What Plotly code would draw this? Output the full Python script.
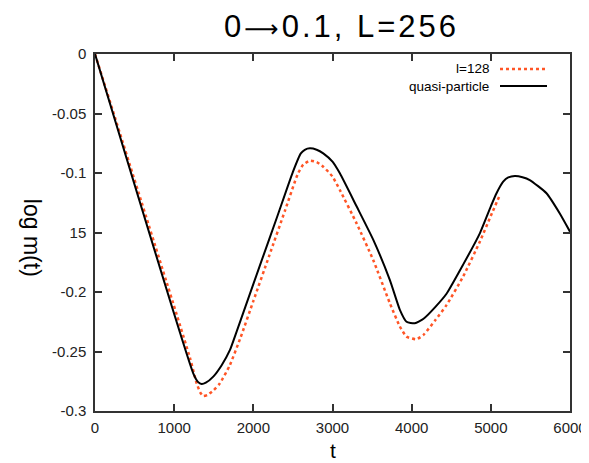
import plotly.graph_objects as go

# quasi-particle (black solid)
t_qp = [0, 1241, 1300, 1347, 1400, 1494, 1600, 1705, 1789, 1900, 2100, 2300, 2500, 2600, 2650,
        2715, 2800, 2883, 3000, 3093, 3304, 3514, 3725, 3851, 3935, 4040, 4150, 4300, 4440, 4650,
        4861, 5000, 5072, 5156, 5220, 5303, 5400, 5492, 5703, 5871, 6000]
v_qp = [0, -0.2683, -0.2755, -0.2773, -0.2762, -0.2711, -0.2615, -0.2487, -0.2333, -0.2123,
        -0.1745, -0.137, -0.099, -0.0835, -0.0805, -0.0793, -0.0805, -0.0835, -0.0905, -0.1003,
        -0.128, -0.156, -0.190, -0.215, -0.225, -0.2263, -0.2225, -0.2125, -0.2015, -0.177,
        -0.1507, -0.128, -0.117, -0.1073, -0.1037, -0.1025, -0.1035, -0.1059, -0.117, -0.134,
        -0.1493]

# l=128 (red dotted)
t_l = [0, 1200, 1284, 1330, 1367, 1420, 1500, 1578, 1700, 1840, 2000, 2200, 2400, 2560, 2630,
       2715, 2800, 2883, 3000, 3093, 3304, 3514, 3725, 3851, 3935, 4061, 4150, 4300, 4440, 4650,
       4861, 5000, 5114]
v_l = [0, -0.2555, -0.2767, -0.2845, -0.2874, -0.2865, -0.2825, -0.2767, -0.262, -0.238,
       -0.2076, -0.1696, -0.1316, -0.101, -0.093, -0.0896, -0.0908, -0.0947, -0.103, -0.1143,
       -0.1423, -0.1731, -0.2095, -0.229, -0.2375, -0.2397, -0.236, -0.2235, -0.211, -0.187,
       -0.1577, -0.136, -0.1185]

x_ticks = [0, 1000, 2000, 3000, 4000, 5000, 6000]
x_ticktext = ["0", "1000", "2000", "3000", "4000", "5000", "6000"]
y_ticks = [0, -0.05, -0.1, -0.15, -0.2, -0.25, -0.3]
y_ticktext = ["0", "-0.05", "-0.1", "15", "-0.2", "-0.25", "-0.3"]

RED = "#ff5526"
FONT = "Liberation Sans, Arial, sans-serif"

fig = go.Figure()
fig.add_trace(go.Scatter(x=t_l, y=v_l, mode="lines", name="l=128",
                         line=dict(color=RED, width=2.5, dash="dot", shape="spline",
                                   smoothing=0.5)))
fig.add_trace(go.Scatter(x=t_qp, y=v_qp, mode="lines", name="quasi-particle",
                         line=dict(color="black", width=2, shape="spline", smoothing=0.5)))

axis_common = dict(showgrid=False, zeroline=False, showline=True, linecolor="#333",
                   linewidth=1.5, mirror="ticks", ticks="inside", ticklen=7,
                   tickcolor="#333", tickwidth=1.5, automargin=False,
                   tickfont=dict(family=FONT, size=15, color="#222"))

fig.update_xaxes(range=[0, 6000], tickvals=x_ticks, ticktext=x_ticktext,
                 ticklabelstandoff=2, **axis_common)
fig.update_yaxes(range=[-0.3, 0], tickvals=y_ticks, ticktext=y_ticktext,
                 ticklabelstandoff=4, **axis_common)

# title, axis titles
fig.add_annotation(text="<span style='letter-spacing:3px'>0<span style='font-family:DejaVu Sans;font-size:24px'>⟶</span>0.1, L=256</span>",
                   xref="paper", yref="paper", x=0.5, y=1, xshift=9,
                   yshift=28, xanchor="center", yanchor="middle", showarrow=False,
                   font=dict(family=FONT, size=31, color="black"))
fig.add_annotation(text="t", xref="paper", yref="paper", x=0.5, y=0, yshift=-52,
                   xanchor="center", yanchor="bottom", showarrow=False, borderpad=0,
                   font=dict(family=FONT, size=21, color="black"))
fig.add_annotation(text="log m(t)", xref="paper", yref="paper", x=0, y=0.485,
                   xshift=-63, xanchor="center", yanchor="middle", showarrow=False,
                   textangle=90, font=dict(family=FONT, size=23, color="black"))

# custom gnuplot-style legend (text right, sample to its right)
legend_items = [("l=128", RED, "dot", 2.5), ("quasi-particle", "black", "solid", 1.8)]
for i, (label, col, dash, w) in enumerate(legend_items):
    ypix = 69 + i * 17
    yp = 1 - (ypix - 54) / 357
    fig.add_annotation(text=label, xref="paper", yref="paper", x=(491 - 95) / 475, y=yp,
                       xanchor="right", yanchor="middle", showarrow=False,
                       font=dict(family=FONT, size=13.5, color="black"))
    fig.add_shape(type="line", xref="paper", yref="paper",
                  x0=(500 - 95) / 475, x1=(547 - 95) / 475, y0=yp, y1=yp,
                  line=dict(color=col, width=w, dash=dash))

# page has an 8px body margin, so the figure is sized to fit inside the window
fig.update_layout(width=581, height=455, showlegend=False,
                  margin=dict(l=87, r=19, t=46, b=52),
                  plot_bgcolor="white", paper_bgcolor="white")

fig.write_html("out.html")
